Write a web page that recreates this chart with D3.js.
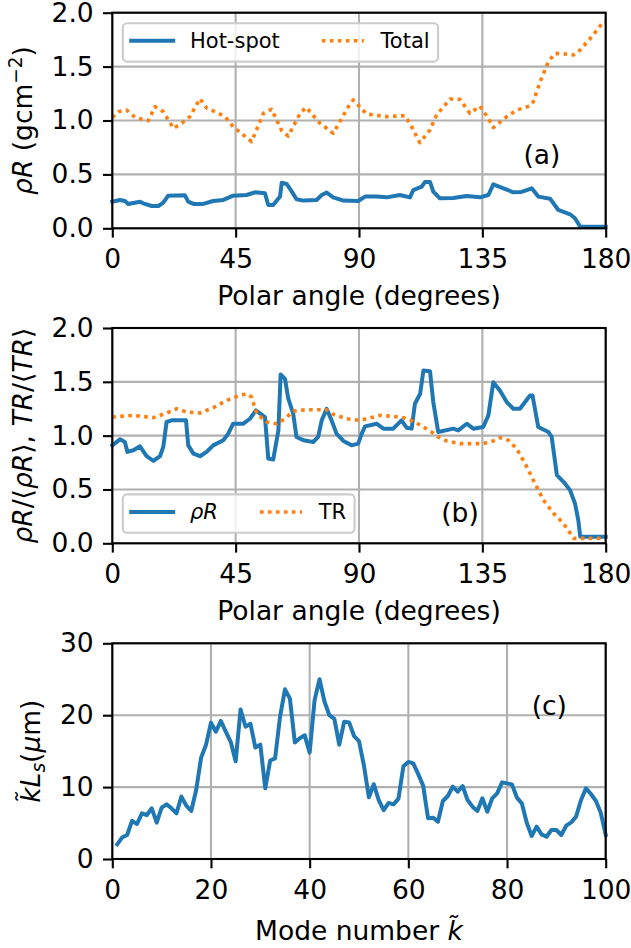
<!DOCTYPE html>
<html><head><meta charset="utf-8">
<script src="https://cdn.jsdelivr.net/npm/d3@7"></script>
<style>body{margin:0;background:#fff} svg text{font-family:"DejaVu Sans"}</style>
</head><body><svg id="c" width="631" height="948"></svg>
<script>
// ---------- DATA ----------
// Panel (a): areal density vs polar angle
const hotSpotAngle = [0,2.8,4.6,5.8,10.1,11.3,14.4,16.8,18.6,20.4,26.5,27.7,29.6,33.2,36.8,40.5,44.1,49.0,52.0,55.7,56.9,58.7,61.2,61.8,63.6,65.5,67.2,69.7,74.5,76.4,78.2,80.6,84.3,89.7,92.2,96.4,100.1,104.9,108.6,109.8,112.9,114.1,115.9,117.1,119.5,124.4,129.3,134.1,137.2,139.0,142.7,146.3,149.3,153.0,155.4,159.7,162.7,167.0,168.8,170.7,180];
const hotSpotRhoR = [0.247,0.263,0.253,0.226,0.247,0.232,0.207,0.207,0.238,0.303,0.306,0.247,0.226,0.226,0.253,0.263,0.303,0.309,0.334,0.325,0.216,0.216,0.294,0.423,0.411,0.340,0.269,0.257,0.263,0.309,0.331,0.287,0.257,0.253,0.294,0.294,0.287,0.309,0.287,0.355,0.386,0.430,0.430,0.340,0.278,0.281,0.300,0.287,0.309,0.408,0.371,0.334,0.337,0.371,0.294,0.275,0.170,0.130,0.093,0.015,0.015];
const totalAngle = [0,2.2,5.2,8.3,13.1,15.6,18.6,22.3,25.3,28.3,32.0,34.5,37.5,41.1,44.1,50.8,55.1,58.1,61.8,64.2,68.5,70.7,75.8,80.6,86.1,87.9,92.8,100.1,106.8,109.2,112.2,115.9,118.3,123.2,126.8,130.5,134.1,137.2,139.0,143.9,147.5,152.4,153.6,156.1,159.1,161.5,165.2,168.2,170.7,174.9,179.2,180];
const totalRhoR = [1.029,1.082,1.097,1.029,0.998,1.128,1.082,0.927,0.974,1.036,1.202,1.113,1.082,1.036,0.943,0.804,1.066,1.104,0.906,0.856,1.066,1.122,0.974,0.881,1.128,1.190,1.060,1.036,1.045,0.943,0.794,0.912,1.051,1.199,1.196,1.066,1.134,1.020,0.934,1.036,1.097,1.134,1.175,1.360,1.546,1.623,1.617,1.607,1.654,1.777,1.917,1.917];

// Panel (b): normalised rhoR and TR vs polar angle
const rhoRAngle = [0,2.8,4.6,5.5,7.7,10.1,12.5,15.0,17.4,18.6,19.8,21.6,26.9,27.7,29.6,32.0,34.4,36.8,40.5,42.3,44.1,47.8,50.2,52.4,54.5,55.7,56.9,58.7,60.6,61.4,63.0,64.2,66.0,67.2,69.7,73.3,75.1,76.4,78.2,80.0,81.8,84.3,87.3,89.7,91.0,92.2,96.4,98.9,102.5,105.5,107.4,109.2,110.4,112.3,113.5,115.9,117.1,118.9,124.4,126.2,129.3,131.7,135.3,137.2,139.0,141.4,143.9,146.3,148.7,152.4,153.3,155.4,159.1,160.3,162.2,164.6,167.0,168.8,170.0,170.7,180];
const rhoRNorm = [0.910,0.966,0.941,0.849,0.864,0.901,0.809,0.765,0.809,0.895,1.127,1.142,1.142,0.910,0.833,0.809,0.849,0.910,0.957,1.019,1.111,1.111,1.157,1.235,1.194,1.173,0.787,0.778,1.049,1.568,1.528,1.343,1.204,0.988,0.957,0.941,0.988,1.142,1.250,1.142,1.019,0.951,0.910,0.926,1.019,1.086,1.111,1.065,1.065,1.142,1.074,1.065,1.296,1.389,1.605,1.599,1.312,1.034,1.065,1.049,1.111,1.065,1.080,1.188,1.497,1.420,1.312,1.250,1.250,1.373,1.373,1.080,1.034,0.988,0.633,0.571,0.494,0.370,0.216,0.062,0.062];
const trAngle = [0,7.7,15.0,19.8,23.5,27.1,32.0,36.8,41.7,45.4,49.0,50.8,52.7,56.3,60.0,63.0,66.0,70.9,78.2,80.6,85.5,90.3,92.8,97.6,102.5,106.2,110.4,113.5,116.5,118.9,122.0,126.8,135.3,139.0,141.4,144.5,147.5,150.6,153.6,157.3,161.0,164.6,168.3,170.7,180];
const trNorm = [1.173,1.188,1.167,1.210,1.250,1.219,1.210,1.259,1.327,1.364,1.389,1.358,1.204,1.127,1.111,1.157,1.228,1.241,1.241,1.198,1.157,1.142,1.157,1.188,1.179,1.167,1.127,1.080,1.034,0.988,0.951,0.926,0.926,0.951,0.981,0.957,0.880,0.741,0.586,0.401,0.278,0.185,0.046,0.046,0.046];

// Panel (c): k~ L_s vs mode number
const modeNumber = d3.range(1, 101);
const kLs = [2.04,3.0,3.34,5.3,4.87,6.35,6.12,7.05,5.05,7.14,
  7.6,7.05,6.35,8.67,7.42,6.68,9.6,14.1,15.9,18.96,
  17.7,19.2,17.7,16.3,13.6,20.8,18.4,18.8,15.5,15.9,
  9.83,13.7,14.0,19.8,23.6,22.3,16.2,16.8,17.2,14.8,
  22.1,25.0,21.9,20.0,19.5,15.9,19.1,19.0,17.1,16.4,
  13.0,8.58,10.4,8.2,6.8,7.8,7.6,8.4,12.9,13.5,
  13.3,11.8,10.2,5.66,5.75,5.19,8.07,8.76,10.06,9.36,
  10.15,8.2,7.28,6.68,8.44,6.58,8.44,9.13,10.66,10.52,
  10.38,8.53,7.74,5.05,3.2,4.5,3.43,3.1,4.03,4.03,
  3.34,4.64,5.1,5.89,8.2,9.83,9.04,8.11,6.44,3.34];

// Ticks
const angleTicks = [0,45,90,135,180];
const ratioTicks = [0,0.5,1.0,1.5,2.0];
const modeTicks = [0,20,40,60,80,100];
const kLsTicks = [0,10,20,30];

// ---------- STYLE ----------
const BLUE = "#1f77b4", ORANGE = "#ff7f0e";
const FS = 26.5, LFS = 21, LW = 4, DLW = 3.6, DASH = "3.6,4.4", SW = 2.1, TL = 9.3, TP = 9.3;
const L = 112.3, R = 605.7;
const svg = d3.select("#c");

function panel(top, bottom, xDom, xTicks, yDom, yTicks, yFmt) {
  const x = d3.scaleLinear().domain(xDom).range([L, R]);
  const y = d3.scaleLinear().domain(yDom).range([bottom, top]);
  const g = svg.append("g");
  const grid = g.append("g").attr("stroke", "#b0b0b0").attr("stroke-width", SW);
  grid.selectAll("line.gx").data(xTicks).join("line").attr("class","gx")
    .attr("x1", d => x(d)).attr("x2", d => x(d)).attr("y1", top).attr("y2", bottom);
  grid.selectAll("line.gy").data(yTicks).join("line").attr("class","gy")
    .attr("y1", d => y(d)).attr("y2", d => y(d)).attr("x1", L).attr("x2", R);
  const lines = g.append("g");
  const axes = g.append("g");
  const xa = d3.axisBottom(x).tickValues(xTicks).tickSize(TL).tickPadding(TP).tickSizeOuter(0).tickFormat(d3.format("d"));
  axes.append("g").attr("transform", `translate(0,${bottom})`).call(xa)
    .attr("font-size", FS).attr("font-family", "DejaVu Sans")
    .call(s => s.select(".domain").remove())
    .call(s => s.selectAll("line").attr("stroke", "#000").attr("stroke-width", SW))
    .call(s => s.selectAll("text").attr("fill", "#000").attr("dy", 21.4));
  const ya = d3.axisLeft(y).tickValues(yTicks).tickSize(TL).tickPadding(TP).tickSizeOuter(0).tickFormat(yFmt);
  axes.append("g").attr("transform", `translate(${L},0)`).call(ya)
    .attr("font-size", FS).attr("font-family", "DejaVu Sans")
    .call(s => s.select(".domain").remove())
    .call(s => s.selectAll("line").attr("stroke", "#000").attr("stroke-width", SW))
    .call(s => s.selectAll("text").attr("fill", "#000"));
  axes.append("rect").attr("x", L).attr("y", top).attr("width", R - L).attr("height", bottom - top)
    .attr("fill", "none").attr("stroke", "#000").attr("stroke-width", SW);
  return {x, y, g, lines, axes, top, bottom};
}

function drawLine(P, xs, ys, color, dotted) {
  const line = d3.line().x(d => P.x(d[0])).y(d => P.y(d[1]));
  const path = P.lines.append("path").datum(d3.zip(xs, ys)).attr("d", line)
    .attr("fill", "none").attr("stroke", color).attr("stroke-linejoin", "round");
  if (dotted) path.attr("stroke-width", DLW).attr("stroke-dasharray", DASH).attr("stroke-linecap", "butt");
  else path.attr("stroke-width", LW).attr("stroke-linecap", "square");
}

function legend(P, items, x0, y0, anchorBottom) {
  const bp = 0.4*LFS, hl = 2*LFS, htp = 0.8*LFS, cs = 2*LFS, h = 38.4;
  const g = P.axes.append("g");
  const box = g.append("rect");
  let cx = x0 + bp;
  const top = anchorBottom ? y0 - h : y0;
  const ly = top + 17.6, ty = top + 24.6;
  items.forEach((it, i) => {
    const hp = g.append("line").attr("x1", cx).attr("x2", cx + hl).attr("y1", ly).attr("y2", ly)
      .attr("stroke", it.color);
    if (it.dotted) hp.attr("stroke-width", DLW).attr("stroke-dasharray", DASH);
    else hp.attr("stroke-width", LW).attr("stroke-linecap", "square");
    cx += hl + htp;
    const t = g.append("text").attr("x", cx).attr("y", ty).attr("font-size", LFS).attr("fill", "#000");
    it.parts.forEach(p => t.append("tspan").text(p[0]).attr("font-style", p[1] ? "italic" : "normal"));
    cx += t.node().getComputedTextLength();
    if (i < items.length - 1) cx += cs;
  });
  box.attr("x", x0).attr("y", top).attr("width", cx + bp - x0).attr("height", h)
    .attr("rx", 0.2*LFS).attr("fill", "#fff").attr("fill-opacity", 0.8)
    .attr("stroke", "#cccccc").attr("stroke-width", SW);
}

function addText(parent, x, y, parts, opts = {}) {
  const t = parent.append("text").attr("x", x).attr("y", y).attr("font-size", FS).attr("fill", "#000");
  if (opts.anchor) t.attr("text-anchor", opts.anchor);
  if (opts.rotate) t.attr("transform", `rotate(-90,${x},${y})`);
  parts.forEach(p => {
    const s = t.append("tspan").text(p.t).attr("font-style", p.i ? "italic" : "normal");
    if (p.fs) s.attr("font-size", p.fs);
    if (p.dy) s.attr("dy", p.dy);
  });
  return t;
}

// ---------- PANEL (a) ----------
const A = panel(12.7, 228.3, [0, 180], angleTicks, [0, 2], ratioTicks, d3.format(".1f"));
drawLine(A, hotSpotAngle, hotSpotRhoR, BLUE, false);
drawLine(A, totalAngle, totalRhoR, ORANGE, true);
legend(A, [{color: BLUE, parts: [["Hot-spot", false]]}, {color: ORANGE, dotted: true, parts: [["Total", false]]}], L + 0.5*LFS, A.top + 0.5*LFS, false);
addText(A.axes, A.x(150), A.y(0.6), [{t: "(a)"}]);
addText(svg, (L + R)/2, 305, [{t: "Polar angle (degrees)"}], {anchor: "middle"});
addText(svg, 32, (A.top + A.bottom)/2, [{t: "ρR", i: true}, {t: " (gcm"}, {t: "−2", fs: FS*0.7, dy: -10}, {t: ")", dy: 10}], {anchor: "middle", rotate: true});

// ---------- PANEL (b) ----------
const B = panel(328, 543.3, [0, 180], angleTicks, [0, 2], ratioTicks, d3.format(".1f"));
drawLine(B, rhoRAngle, rhoRNorm, BLUE, false);
drawLine(B, trAngle, trNorm, ORANGE, true);
legend(B, [{color: BLUE, parts: [["ρR", true]]}, {color: ORANGE, dotted: true, parts: [["TR", false]]}], L + 0.5*LFS, B.bottom - 0.5*LFS, true);
addText(B.axes, B.x(120), B.y(0.2), [{t: "(b)"}]);
addText(svg, (L + R)/2, 620, [{t: "Polar angle (degrees)"}], {anchor: "middle"});
addText(svg, 32, (B.top + B.bottom)/2, [{t: "ρR", i: true}, {t: "/⟨"}, {t: "ρR", i: true}, {t: "⟩, "}, {t: "TR", i: true}, {t: "/⟨"}, {t: "TR", i: true}, {t: "⟩"}], {anchor: "middle", rotate: true});

// ---------- PANEL (c) ----------
const C = panel(643.3, 859, [0, 100], modeTicks, [0, 30], kLsTicks, d3.format("d"));
drawLine(C, modeNumber, kLs, BLUE, false);
addText(C.axes, C.x(85), C.y(20), [{t: "(c)"}]);
addText(svg, (L + R)/2, 940, [{t: "Mode number "}, {t: "k\u0303", i: true}], {anchor: "middle"});
addText(svg, 40, (C.top + C.bottom)/2, [{t: "k\u0303L", i: true}, {t: "s", i: true, fs: FS*0.7, dy: 5}, {t: "(", dy: -5}, {t: "μ", i: true}, {t: "m)"}], {anchor: "middle", rotate: true});
</script>
</body></html>
